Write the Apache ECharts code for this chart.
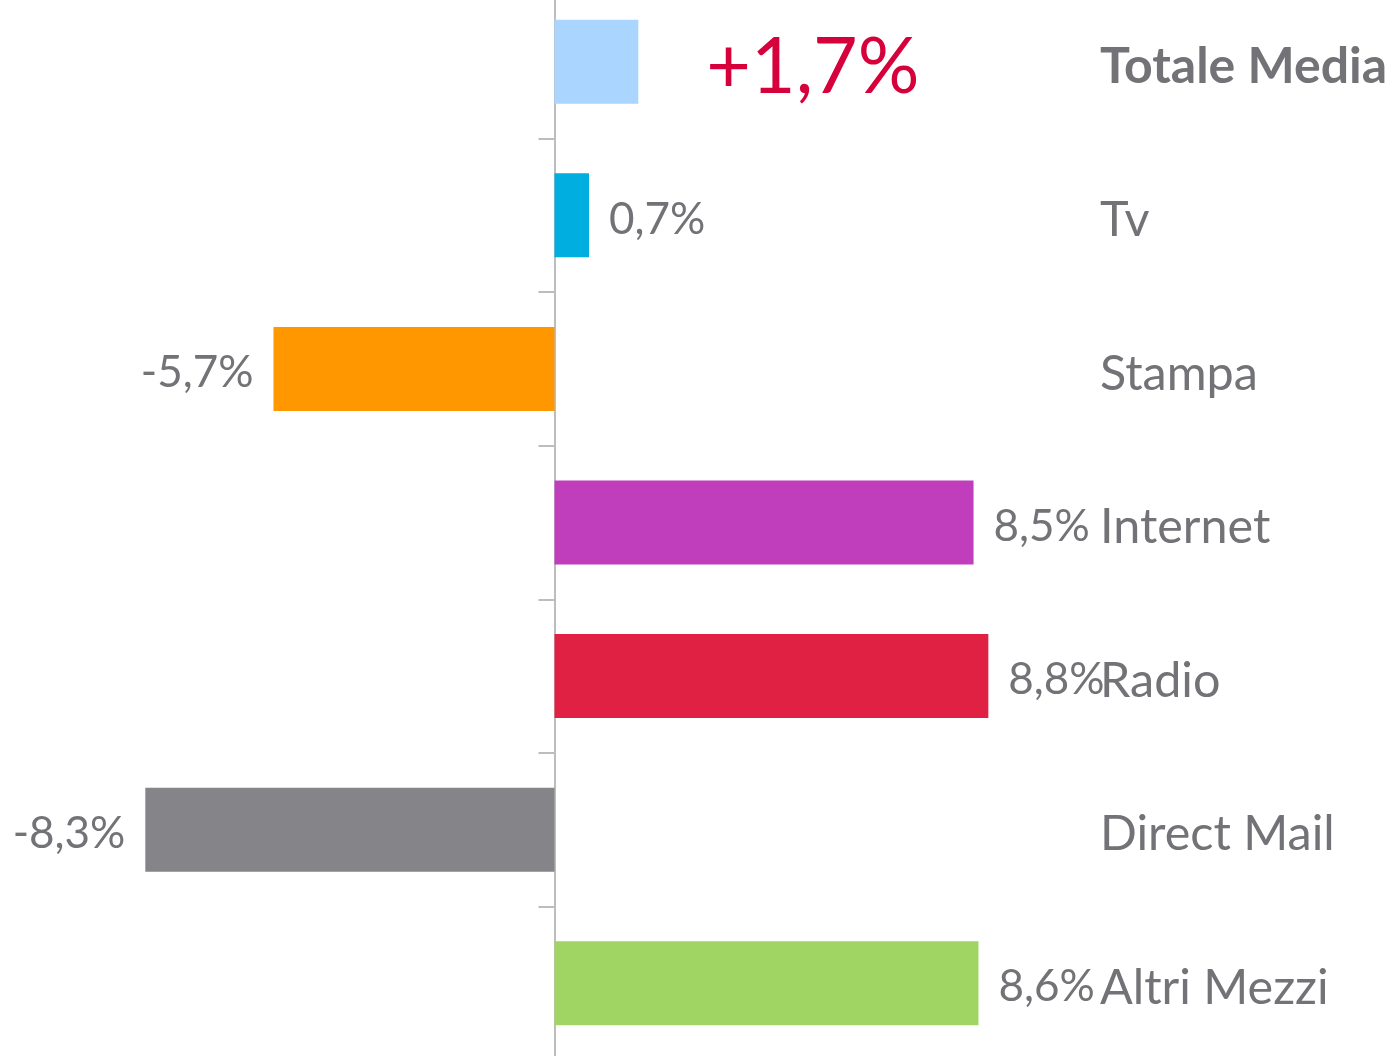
<!DOCTYPE html>
<html>
<head>
<meta charset="utf-8">
<script src="https://cdn.jsdelivr.net/npm/echarts@6/dist/echarts.min.js"></script>
<style>
html,body{margin:0;padding:0;background:#fff;overflow:hidden;width:1391px;height:1056px;}
#chart{position:absolute;left:0;top:-15px;width:1391px;height:1075px;}
</style>
</head>
<body>
<div id="chart"></div>
<script>
const categories = ['Totale Media', 'Tv', 'Stampa', 'Internet', 'Radio', 'Direct Mail', 'Altri Mezzi'];
const values = [1.7, 0.7, -5.7, 8.5, 8.8, -8.3, 8.6];
const barColors = ['#A9D5FF', '#00AEE0', '#FF9700', '#C03EBB', '#E12143', '#848489', '#A1D563'];

const FONT = 'Lato';
const GRAY = '#727277';

function fmt(v, i) {
  return (i === 0 && v > 0 ? '+' : '') + v.toFixed(1).replace('.', ',') + '%';
}

const seriesData = values.map((v, i) => {
  const item = {
    value: v,
    itemStyle: { color: barColors[i] },
    label: {
      position: v >= 0 ? 'right' : 'left',
      distance: 20,
      offset: [0, 4]
    }
  };
  if (i === 0) {
    item.label = {
      position: 'right',
      distance: 68,
      fontSize: 77,
      color: '#D6003B',
      offset: [0, 6]
    };
  }
  return item;
});

const chart = echarts.init(document.getElementById('chart'), null, { renderer: 'canvas' });
chart.setOption({
  animation: false,
  backgroundColor: '#ffffff',
  grid: { left: 61.5, right: 343.5, top: 0, bottom: 0, containLabel: false },
  xAxis: {
    type: 'value',
    min: -10,
    max: 10,
    show: false
  },
  yAxis: [
    {
      type: 'category',
      data: categories,
      inverse: true,
      axisLine: { show: true, onZero: true, lineStyle: { color: '#BDBDBD', width: 2 } },
      axisTick: { show: true, length: 16, lineStyle: { color: '#BDBDBD', width: 2 } },
      axisLabel: { show: false },
      splitLine: { show: false }
    },
    {
      type: 'category',
      data: categories,
      inverse: true,
      position: 'right',
      axisLine: { show: false },
      axisTick: { show: false },
      splitLine: { show: false },
      axisLabel: {
        margin: 52.5,
        fontFamily: FONT,
        fontSize: 48.5,
        color: GRAY,
        padding: [10, 0, 0, 0],
        formatter: (v, i) => i === 0 ? '{b|' + v + '}' : v,
        rich: {
          b: { fontFamily: FONT, fontSize: 50, fontWeight: 'bold', color: GRAY }
        }
      }
    }
  ],
  series: [
    {
      type: 'bar',
      yAxisIndex: 0,
      barWidth: 84,
      data: seriesData,
      label: {
        show: true,
        fontFamily: FONT,
        fontSize: 44,
        color: GRAY,
        formatter: p => fmt(p.value, p.dataIndex)
      }
    }
  ]
});
</script>
</body>
</html>
